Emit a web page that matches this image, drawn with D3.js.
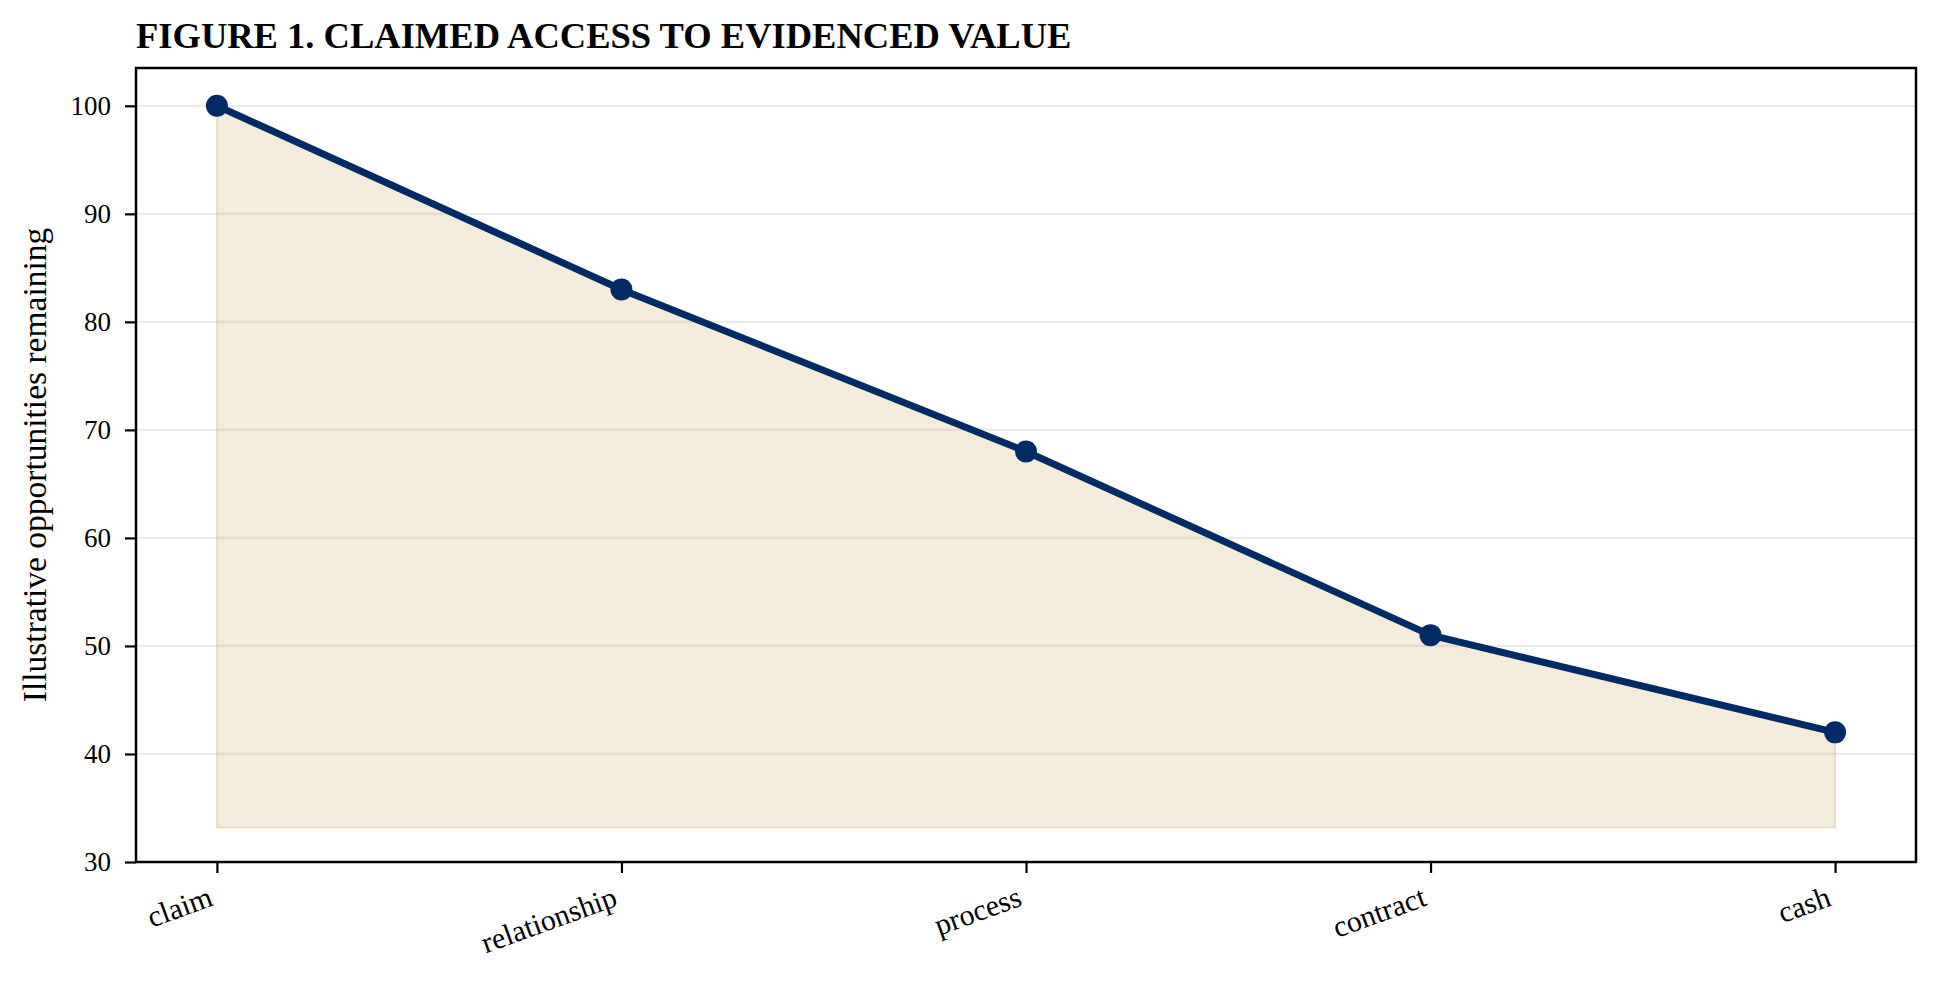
<!DOCTYPE html>
<html>
<head>
<meta charset="utf-8">
<script src="https://cdn.jsdelivr.net/npm/d3@7"></script>
<style>
  body { margin: 0; background: #fff; }
  text { font-family: "Liberation Serif", "Times New Roman", serif; fill: #000; }
</style>
</head>
<body>
<div id="chart"></div>
<script>
// data
var stages = ["claim", "relationship", "process", "contract", "cash"];
var remaining = [100, 83, 68, 51, 42];
var fillBase = 33.2;
var yTicks = [30, 40, 50, 60, 70, 80, 90, 100];

var width = 1939, height = 983;
var margin = {left: 136, right: 23, top: 68, bottom: 121};

var svg = d3.select('#chart').append('svg')
  .attr("width", width)
  .attr("height", height);

var x = d3.scaleLinear()
  .domain([-0.2, stages.length - 1 + 0.2])
  .range([margin.left, width - margin.right]);

var y = d3.scaleLinear()
  .domain([30, 103.5])
  .range([height - margin.bottom, margin.top]);

var points = stages.map(function(s, i){ return {stage: s, i: i, v: remaining[i]}; });

// grid
svg.append('g')
  .selectAll('line')
  .data(yTicks)
  .enter()
  .append('line')
  .attr("x1", margin.left)
  .attr("x2", width - margin.right)
  .attr("y1", function(d){ return y(d); })
  .attr("y2", function(d){ return y(d); })
  .attr("stroke", "#ebebeb")
  .attr("stroke-width", 2.2);

// shaded area under the line
var area = d3.area()
  .x(function(d){ return x(d.i); })
  .y0(y(fillBase))
  .y1(function(d){ return y(d.v); });

svg.append('path')
  .datum(points)
  .attr("d", area)
  .attr("fill", "#c9a85e")
  .attr("fill-opacity", 0.22)
  .attr("stroke", "#c9a85e")
  .attr("stroke-opacity", 0.3)
  .attr("stroke-width", 2);

// line + markers
var line = d3.line()
  .x(function(d){ return x(d.i); })
  .y(function(d){ return y(d.v); });

svg.append('path')
  .datum(points)
  .attr("d", line)
  .attr("fill", "none")
  .attr("stroke", "#022b66")
  .attr("stroke-width", 7)
  .attr("stroke-linejoin", "round");

svg.append('g')
  .selectAll('circle')
  .data(points)
  .enter()
  .append('circle')
  .attr("cx", function(d){ return x(d.i); })
  .attr("cy", function(d){ return y(d.v); })
  .attr("r", 11)
  .attr("fill", "#022b66");

// axes
var yAxis = svg.append('g')
  .attr("transform", "translate(" + margin.left + ",0)")
  .call(d3.axisLeft(y).tickValues(yTicks).tickSize(11).tickPadding(14));

var xAxis = svg.append('g')
  .attr("transform", "translate(0," + (height - margin.bottom) + ")")
  .call(d3.axisBottom(x).tickValues(d3.range(stages.length))
        .tickFormat(function(i){ return stages[i]; }).tickSize(11));

[yAxis, xAxis].forEach(function(a){
  a.select('.domain').remove();
  a.selectAll('.tick line').attr("stroke", "#000").attr("stroke-width", 2.2);
  a.selectAll('.tick text').attr("font-family", "Liberation Serif");
});

yAxis.selectAll('.tick text').attr("font-size", "27px");

xAxis.selectAll('.tick text')
  .attr("font-size", "30px")
  .attr("text-anchor", "end")
  .attr("x", 0)
  .attr("y", 0)
  .attr("dy", 0)
  .attr("transform", "translate(-3,43) rotate(-20)");

// frame
svg.append('rect')
  .attr("x", margin.left)
  .attr("y", margin.top)
  .attr("width", width - margin.left - margin.right)
  .attr("height", height - margin.top - margin.bottom)
  .attr("fill", "none")
  .attr("stroke", "#000")
  .attr("stroke-width", 2.5);

// labels
svg.append('text')
  .text("FIGURE 1. CLAIMED ACCESS TO EVIDENCED VALUE")
  .attr("x", margin.left)
  .attr("y", 48)
  .attr("font-size", "36.5px")
  .attr("font-weight", "bold");

svg.append('text')
  .text("Illustrative opportunities remaining")
  .attr("transform", "translate(46,465) rotate(-90)")
  .attr("text-anchor", "middle")
  .attr("font-size", "33.5px");
</script>
</body>
</html>
